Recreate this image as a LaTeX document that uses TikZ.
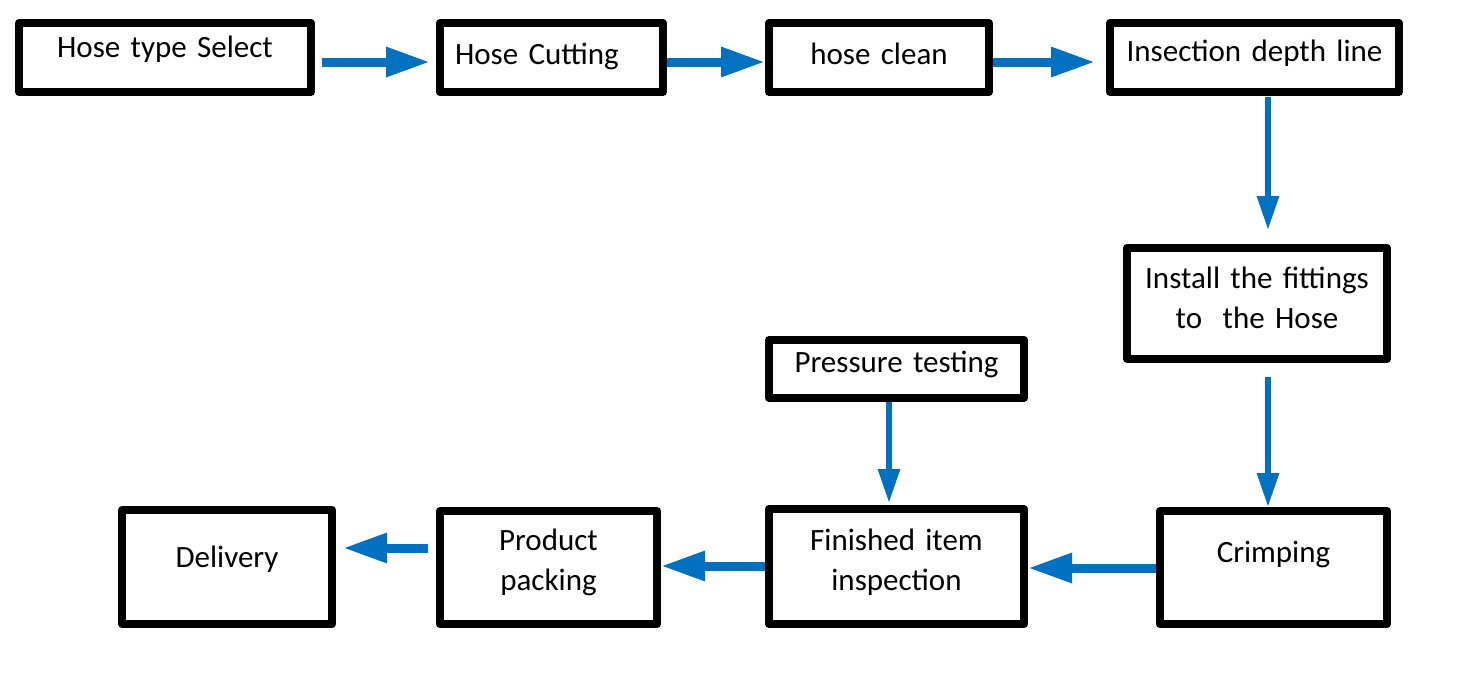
\documentclass[tikz,border=0pt]{standalone}
\usepackage{fontspec}
\setmainfont{Carlito}
\usetikzlibrary{arrows.meta}
\definecolor{flowblue}{HTML}{0070C0}
\tikzset{
  stepbox/.style={draw, line width=8pt, line join=round, inner sep=0pt, align=center, anchor=base, font=\fontsize{31}{40}\selectfont},
  harrow/.style={flowblue, line width=9pt, -{Triangle[length=44pt,width=28pt]}},
  varrow/.style={flowblue, line width=6pt, -{Triangle[length=34pt,width=21pt]}}
}
\begin{document}
\begin{tikzpicture}[x=1pt,y=-1pt]
  \useasboundingbox (0,0) rectangle (1460,675);
  % top row
  \node[stepbox, text width=292pt, text height=34pt, text depth=35pt] (hts) at (165,57) {Hose type Select};
  \node[stepbox, text width=193pt, inner xsep=15pt, align=left, text height=41pt, text depth=28pt] (cut) at (551.5,64) {Hose Cutting};
  \node[stepbox, text width=220pt, text height=41pt, text depth=28pt] (cln) at (879,64) {hose clean};
  \node[stepbox, text width=289pt, text height=38pt, text depth=31pt] (isd) at (1254.5,61) {Insection depth line};
  % right column
  \node[stepbox, text width=260pt, text height=40pt, text depth=71pt] (ins) at (1257,288) {Install the fittings\\to\ \ the Hose};
  \node[stepbox, text width=227pt, text height=51pt, text depth=62pt] (crm) at (1273.5,562) {Crimping};
  % bottom row
  \node[stepbox, text width=255pt, text height=32pt, text depth=26pt] (prs) at (896.5,372) {Pressure testing};
  \node[stepbox, text width=255pt, text height=41pt, text depth=74pt] (fin) at (896.5,550) {Finished item\\inspection};
  \node[stepbox, text width=217pt, text height=39pt, text depth=74pt] (pck) at (548.5,550) {Product\\packing};
  \node[stepbox, text width=210pt, text height=57pt, text depth=57pt] (dlv) at (227,567) {Delivery};

  \draw[harrow] ([shift={(7,4.5)}]hts.east) -- ([shift={(-6,4.5)}]cut.west);
  \draw[harrow] ([shift={(0,4.5)}]cut.east) -- ([shift={(0,4.5)}]cln.west);
  \draw[harrow] ([shift={(0,4.5)}]cln.east) -- ([shift={(-11,4.5)}]isd.west);
  \draw[varrow] ([shift={(13.5,1)}]isd.south) -- ([shift={(11,-14)}]ins.north);
  \draw[varrow] ([shift={(11,14)}]ins.south) -- ([shift={(-5.5,0)}]crm.north);
  \draw[harrow] ([shift={(0,0.5)}]crm.west) -- ([shift={(0,1.5)}]fin.east);
  \draw[varrow] ([shift={(-7.5,0)}]prs.south) -- ([shift={(-7.5,-2)}]fin.north);
  \draw[harrow] ([shift={(0,-0.5)}]fin.west) -- ([shift={(0,-1.5)}]pck.east);
  \draw[harrow] ([shift={(-8,-19.5)}]pck.west) -- ([shift={(7,-19)}]dlv.east);
\end{tikzpicture}
\end{document}
